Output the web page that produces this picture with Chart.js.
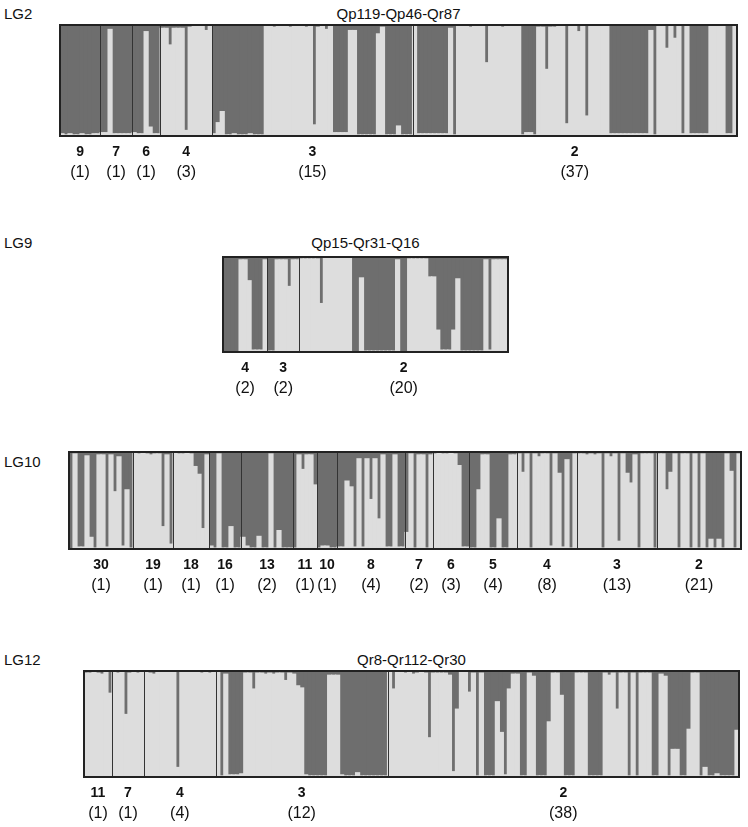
<!DOCTYPE html>
<html>
<head>
<meta charset="utf-8">
<script src="https://cdn.jsdelivr.net/npm/chart.js@4/dist/chart.umd.min.js"></script>
<style>
  body { margin: 0; background: #fff; font-family: "Liberation Sans", Arial, sans-serif; }
  #page { position: relative; width: 748px; height: 827px; }
  .lg { position: absolute; left: 4px; font-size: 15px; line-height: 18px; color: #111; }
  .title { position: absolute; font-size: 15px; line-height: 18px; color: #111; transform: translateX(-50%); white-space: nowrap; }
  .panel { position: absolute; }
</style>
</head>
<body>
<div id="page"></div>
<script>
// light fraction (bottom colour) per individual, grouped by allele number
const lg2Groups = ['9', '7', '6', '4', '3', '2'];
const lg2Counts = ['(1)', '(1)', '(1)', '(3)', '(15)', '(37)'];
const lg2Light = [
  [0.02, 0.01, 0.02, 0.01, 0.01, 0.02, 0.01, 0.01, 0.02, 0.02],
  [0.03, 0.03, 0.96, 0.02, 0.02, 0.02, 0.02, 0.02],
  [0.03, 0.02, 0.02, 0.94, 0.08, 0.02, 0.02],
  [0.97, 0.97, 0.82, 0.97, 0.97, 0.97, 0.05, 0.98, 0.99, 0.99, 0.99, 0.95, 0.99],
  [0.02, 0.12, 0.22, 0.01, 0.01, 0.02, 0.01, 0.01, 0.01, 0.02, 0.01, 0.01, 0.01, 0.99,
   0.99, 0.98, 0.99, 0.99, 0.99, 0.98, 0.99, 0.99, 0.99, 0.98, 0.99, 0.1, 0.98, 0.99,
   0.96, 0.99, 0.03, 0.03, 0.03, 0.03, 0.95, 0.95, 0.01, 0.01, 0.01, 0.01, 0.01, 0.92,
   0.98, 0.01, 0.01, 0.01, 0.09, 0.01, 0.01, 0.01],
  [0.99, 0.02, 0.02, 0.02, 0.02, 0.02, 0.02, 0.02, 0.02, 0.97, 0.01, 0.99, 0.99, 0.99,
   0.98, 0.99, 0.99, 0.99, 0.66, 0.99, 0.99, 0.99, 0.98, 0.99, 0.99, 0.99, 0.99, 0.01,
   0.03, 0.03, 0.01, 0.98, 0.98, 0.6, 0.98, 0.98, 0.99, 0.99, 0.11, 0.99, 0.99, 0.94,
   0.99, 0.18, 0.99, 0.99, 0.99, 0.99, 0.99, 0.02, 0.02, 0.02, 0.02, 0.02, 0.02, 0.02,
   0.02, 0.02, 0.02, 0.95, 0.01, 0.99, 0.99, 0.79, 0.99, 0.88, 0.99, 0.02, 0.99, 0.02,
   0.02, 0.02, 0.02, 0.02, 0.99, 0.99, 0.99, 0.99, 0.02, 0.02, 0.99]
];

const lg9Groups = ['4', '3', '2'];
const lg9Counts = ['(2)', '(2)', '(20)'];
const lg9Light = [
  [0, 0, 0, 0, 0.97, 0.97, 0.75, 0.02, 0.02, 0.02, 0.97],
  [0.01, 0.01, 0.97, 0.97, 0.97, 0.69, 0.97, 0.97],
  [0.98, 0.98, 0.98, 0.98, 0.98, 0.51, 0.99, 0.99, 0.99, 0.99, 0.99, 0.99, 0.99, 0, 0,
   0.78, 0.01, 0.01, 0.01, 0.01, 0.01, 0.01, 0.01, 0.01, 0.97, 0, 0, 0.98, 0.98, 0.98,
   0.98, 0.98, 0.79, 0.79, 0.23, 0.02, 0.02, 0.02, 0.23, 0.77, 0.01, 0.01, 0.01, 0.01,
   0.01, 0.01, 0.97, 0.02, 0.97, 0.97, 0.97, 0.97]
];

const lg10Groups = ['30', '19', '18', '16', '13', '11', '10', '8', '7', '6', '5', '4', '3', '2'];
const lg10Counts = ['(1)', '(1)', '(1)', '(1)', '(2)', '(1)', '(1)', '(4)', '(2)', '(3)', '(4)', '(8)', '(13)', '(21)'];
const lg10Light = [
  [0, 0.98, 0.02, 0.02, 0.96, 0.12, 0.01, 0.97, 0.97, 0.02, 0.97, 0.59, 0.95, 0.03, 0.61, 0.01],
  [0.99, 0.98, 0.99, 0.98, 0.97, 0.98, 0.98, 0.23, 0.97, 0.05],
  [0.99, 0.98, 0.98, 0.99, 0.98, 0.85, 0.77, 0.21, 0.97],
  [0.03, 0.01, 0.98, 0.01, 0.01, 0.23, 0.01, 0.01],
  [0.12, 0.03, 0.01, 0.01, 0.13, 0.01, 0.01, 0.98, 0.01, 0.19, 0.01, 0.01, 0.01],
  [0.01, 0.97, 0.82, 0.97, 0.97, 0.66],
  [0.01, 0.03, 0.03, 0.01, 0.01],
  [0.02, 0.02, 0.7, 0.64, 0.02, 0.93, 0.02, 0.93, 0.51, 0.93, 0.31, 0.97, 0.02, 0.02, 0.97, 0.02, 0.02],
  [0.17, 0.98, 0.01, 0.97, 0.97, 0.01, 0.97],
  [0.98, 0.99, 0.98, 0.98, 0.99, 0.98, 0.86, 0.02, 0.02],
  [0.01, 0.01, 0.61, 0.97, 0.97, 0.01, 0.01, 0.31, 0.01, 0.01, 0.97, 0.97],
  [0.98, 0.79, 0.98, 0.01, 0.98, 0.95, 0.98, 0.98, 0.03, 0.98, 0.78, 0.02, 0.92, 0.01, 0.98],
  [0.98, 0.98, 0.97, 0.98, 0.97, 0.98, 0.01, 0.98, 0.95, 0.98, 0.08, 0.98, 0.78, 0.68, 0.97,
   0.01, 0.98, 0.98, 0.98, 0.01],
  [0.98, 0.98, 0.61, 0.79, 0.98, 0.01, 0.98, 0.98, 0.01, 0.98, 0.01, 0.98, 0.01, 0.1, 0.01,
   0.1, 0.01, 0.98, 0.8, 0.01, 0.98]
];

const lg12Groups = ['11', '7', '4', '3', '2'];
const lg12Counts = ['(1)', '(1)', '(4)', '(12)', '(38)'];
const lg12Light = [
  [0.98, 0.98, 0.99, 0.98, 0.97, 0.99, 0.79],
  [0.99, 0.98, 0.99, 0.59, 0.98, 0.99, 0.98, 0.99],
  [0.99, 0.98, 0.97, 0.99, 0.99, 0.99, 0.99, 0.99, 0.09, 0.99, 0.99, 0.99, 0.99, 0.99, 0.98,
   0.99, 0.98, 0.99],
  [0.99, 0.01, 0.97, 0.02, 0.02, 0.02, 0.03, 0.98, 0.98, 0.83, 0.98, 0.98, 0.97, 0.98, 0.97,
   0.98, 0.98, 0.91, 0.98, 0.97, 0.86, 0.84, 0.02, 0.01, 0.01, 0.01, 0.01, 0.01, 0.96, 0.96,
   0.96, 0.02, 0.01, 0.01, 0.01, 0.04, 0.01, 0.01, 0.01, 0.01, 0.01, 0.01, 0.01],
  [0.99, 0.83, 0.99, 0.99, 0.98, 0.99, 0.97, 0.98, 0.99, 0.98, 0.37, 0.98, 0.98, 0.98, 0.98,
   0.96, 0.05, 0.64, 0.99, 0.99, 0.8, 0.98, 0.01, 0.98, 0.01, 0.01, 0.01, 0.71, 0.42, 0.02,
   0.83, 0.97, 0.97, 0.01, 0.01, 0.98, 0.95, 0.01, 0.01, 0.01, 0.52, 0.98, 0.98, 0.77, 0.01,
   0.01, 0.01, 0.98, 0.98, 0.98, 0.01, 0.01, 0.01, 0.01, 0.98, 0.96, 0.98, 0.64, 0.98, 0.98,
   0.01, 0.98, 0.01, 0.98, 0.98, 0.98, 0.01, 0.01, 0.97, 0.95, 0.01, 0.26, 0.26, 0.01, 0.01,
   0.45, 0.98, 0.98, 0.01, 0.09, 0.01, 0.01, 0.03, 0.01, 0.01, 0.01, 0.01, 0.44]
];

const LIGHT = 'rgb(221,221,221)';
const DARK = 'rgb(110,110,110)';
const PAD = 2;
const LABEL_SPACE = 50;

// separators, frame and group labels under each panel
const structurePlugin = {
  id: 'structure',
  afterDatasetsDraw(chart, args, opts) {
    const { ctx, chartArea: a, scales: { x } } = chart;
    const half = (x.getPixelForValue(1) - x.getPixelForValue(0)) / 2;
    ctx.save();
    ctx.strokeStyle = '#333';
    ctx.lineWidth = 1;
    ctx.textAlign = 'center';
    ctx.textBaseline = 'middle';
    ctx.fillStyle = '#111';
    let idx = 0;
    opts.sizes.forEach((n, g) => {
      const first = idx, last = idx + n - 1;
      if (g > 0) {
        const px = Math.round(x.getPixelForValue(first) - half) + 0.5;
        ctx.beginPath();
        ctx.moveTo(px, a.top);
        ctx.lineTo(px, a.bottom);
        ctx.stroke();
      }
      const cx = (x.getPixelForValue(first) + x.getPixelForValue(last)) / 2;
      ctx.font = 'bold 14px "Liberation Sans", Arial, sans-serif';
      ctx.fillText(opts.groups[g], cx, a.bottom + 16);
      ctx.font = '16px "Liberation Sans", Arial, sans-serif';
      ctx.fillText(opts.counts[g], cx, a.bottom + 37);
      idx += n;
    });
    ctx.lineWidth = 2;
    ctx.strokeStyle = '#222';
    ctx.strokeRect(a.left, a.top, a.right - a.left, a.bottom - a.top);
    ctx.restore();
  }
};

const page = document.getElementById('page');

function addPanel(name, title, groups, counts, light, box, textTop) {
  const lg = document.createElement('div');
  lg.className = 'lg';
  lg.style.top = textTop + 'px';
  lg.textContent = name;
  page.appendChild(lg);

  const t = document.createElement('div');
  t.className = 'title';
  t.style.top = textTop + 'px';
  t.style.left = (box.left + box.width / 2) + 'px';
  t.textContent = title;
  page.appendChild(t);

  const wrap = document.createElement('div');
  wrap.className = 'panel';
  wrap.style.left = (box.left - PAD) + 'px';
  wrap.style.top = (box.top - PAD) + 'px';
  wrap.style.width = (box.width + 2 * PAD) + 'px';
  wrap.style.height = (box.height + PAD + LABEL_SPACE) + 'px';
  const canvas = document.createElement('canvas');
  wrap.appendChild(canvas);
  page.appendChild(wrap);

  const values = light.flat();
  const dark = values.map(v => 1 - v);
  const labels = values.map((v, i) => i + 1);

  const barStyle = { borderWidth: 0, barPercentage: 1, categoryPercentage: 1, inflateAmount: 0.6 };

  new Chart(canvas, {
    type: 'bar',
    data: {
      labels: labels,
      datasets: [
        Object.assign({ data: values, backgroundColor: LIGHT }, barStyle),
        Object.assign({ data: dark, backgroundColor: DARK }, barStyle)
      ]
    },
    options: {
      responsive: true,
      maintainAspectRatio: false,
      animation: false,
      events: [],
      layout: { padding: { left: PAD, right: PAD, top: PAD, bottom: LABEL_SPACE } },
      scales: {
        x: { stacked: true, display: false },
        y: { stacked: true, display: false, min: 0, max: 1 }
      },
      plugins: {
        legend: { display: false },
        tooltip: { enabled: false },
        structure: { groups: groups, counts: counts, sizes: light.map(g => g.length) }
      }
    },
    plugins: [structurePlugin]
  });
}

addPanel('LG2', 'Qp119-Qp46-Qr87', lg2Groups, lg2Counts, lg2Light,
  { left: 60, top: 25, width: 677, height: 111 }, 5);
addPanel('LG9', 'Qp15-Qr31-Q16', lg9Groups, lg9Counts, lg9Light,
  { left: 223, top: 257, width: 285, height: 95 }, 234);
addPanel('LG10', 'Qr11-Qr96', lg10Groups, lg10Counts, lg10Light,
  { left: 69, top: 452, width: 672, height: 97 }, 453);
addPanel('LG12', 'Qr8-Qr112-Qr30', lg12Groups, lg12Counts, lg12Light,
  { left: 84, top: 671, width: 655, height: 106 }, 651);
</script>
</body>
</html>
